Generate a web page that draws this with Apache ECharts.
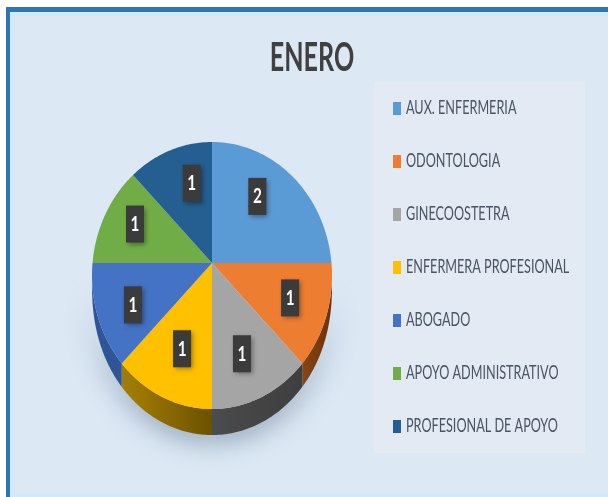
<!DOCTYPE html>
<html><head><meta charset="utf-8">
<style>html,body{margin:0;padding:0;background:#fff}#c{width:608px;height:497px}</style>
<script src="https://cdn.jsdelivr.net/npm/echarts@6/dist/echarts.min.js"></script>
</head><body><div id="c"></div>
<script>
var chartTitle = 'ENERO';
var categories = ['AUX. ENFERMERIA','ODONTOLOGIA','GINECOOSTETRA','ENFERMERA PROFESIONAL','ABOGADO','APOYO ADMINISTRATIVO','PROFESIONAL DE APOYO'];
var values = [2,1,1,1,1,1,1];
var colors = ['#5b9bd5','#ed7d31','#a5a5a5','#ffc000','#4472c4','#70ad47','#255e91'];
var wallFrom = ['#3d6e9c','#8a4410','#4a4a4a','#a98000','#2f5597','#4c7a30','#1a4266'];
var wallTo   = ['#3d6e9c','#6b3208','#3f3f3f','#6b5200','#2f5597','#4c7a30','#1a4266'];
// pixel nudges of each value label away from its computed anchor
var labelNudge = [[-10,-5],[-2,-2],[-5,-3],[5,-8],[1,5],[-2.5,-4.6],[9,-1]];

// layout of the tilted pie: an ellipse whose apex sits above its centre
var CX=212, APEX_Y=263, ELL_Y=275.5, RX=120, RY=133.5, DEPTH=26, SKEW=0.094;
var total = values.reduce(function(a,b){return a+b;},0);
var starts = [], acc = 0;
values.forEach(function(v){ starts.push(acc); acc += v; });

function param(a){ return a-SKEW*Math.sin(a); }
function rim(a){
  var t=param(a);
  return [CX+RX*Math.sin(t), ELL_Y-RY*Math.cos(t)];
}
function wallDrop(a){
  var c=Math.cos(param(a));
  return c<0 ? DEPTH*Math.pow(-c,0.25) : 0;
}
function makeRender(i){
  return function(params, api){
    var v = api.value(0);
    var a0 = starts[i]/total*2*Math.PI, a1 = (starts[i]+v)/total*2*Math.PI;
    var n=48, top=[[CX,APEX_Y]], upper=[], lower=[];
    for(var k=0;k<=n;k++){
      var a=a0+(a1-a0)*k/n, p=rim(a);
      top.push(p); upper.push(p); lower.push([p[0],p[1]+wallDrop(a)]);
    }
    var m=rim((a0+a1)/2);
    var lx=CX+(m[0]-CX)*0.7+labelNudge[i][0], ly=APEX_Y+(m[1]-APEX_Y)*0.7+labelNudge[i][1];
    var children=[];
    if(Math.cos(param(a0))<0 || Math.cos(param(a1))<0){
      children.push({type:'polygon',z2:1,shape:{points:upper.concat(lower.reverse())},
        style:{fill:new echarts.graphic.LinearGradient(0,0,1,0,[{offset:0,color:wallFrom[i]},{offset:1,color:wallTo[i]}]),
          shadowBlur:28,shadowColor:'rgba(70,95,125,0.55)',shadowOffsetY:6}});
    }
    children.push({type:'polygon',z2:10,shape:{points:top},style:{fill:colors[i]}});
    children.push({type:'rect',z2:20,shape:{x:lx-9,y:ly-18.5,width:18,height:37},
      style:{fill:'#3b3b3b',shadowBlur:5,shadowOffsetX:2,shadowOffsetY:2,shadowColor:'rgba(0,0,0,0.4)'}});
    children.push({type:'text',z2:21,x:lx,y:ly,scaleX:0.85,scaleY:1.2,
      style:{text:String(v),fill:'#fff',font:'bold 18px Lato',align:'center',verticalAlign:'middle'}});
    return {type:'group',children:children};
  };
}

var series = categories.map(function(name,i){
  return {type:'custom',name:name,coordinateSystem:'none',silent:true,animation:false,
    itemStyle:{color:colors[i]},data:[[values[i]]],renderItem:makeRender(i)};
});

var legendLabels = categories.map(function(name,i){
  return {type:'text',z:5,silent:true,x:406,y:108+53*i,scaleX:0.632,scaleY:1,
    style:{text:name,fill:'#4a5563',font:'20px Lato',align:'left',verticalAlign:'middle'}};
});

var chart = echarts.init(document.getElementById('c'),null,{renderer:'canvas'});
chart.setOption({
  animation:false,
  backgroundColor:'#ffffff',
  graphic:[
    {type:'rect',z:-10,silent:true,shape:{x:6,y:7,width:602,height:490},style:{fill:'#2e75b6'}},
    {type:'rect',z:-9,silent:true,shape:{x:10,y:12,width:598,height:485},style:{fill:'#d3e9fa'}},
    {type:'rect',z:-8,silent:true,shape:{x:14,y:16,width:594,height:478},style:{fill:'#dce8f4'}},
    {type:'text',z:5,silent:true,x:312,y:58,scaleX:0.66,scaleY:1.04,
      style:{text:chartTitle,fill:'#404040',font:'bold 38px Lato',align:'center',verticalAlign:'middle'}}
  ].concat(legendLabels),
  legend:{
    left:374,top:82,orient:'vertical',
    data:categories,selectedMode:false,
    itemWidth:8,itemHeight:13,itemGap:40,
    icon:'rect',
    formatter:function(){return '';},
    backgroundColor:'#e3eaf3',
    padding:[20,184,20,19]
  },
  series:series
});
</script></body></html>
